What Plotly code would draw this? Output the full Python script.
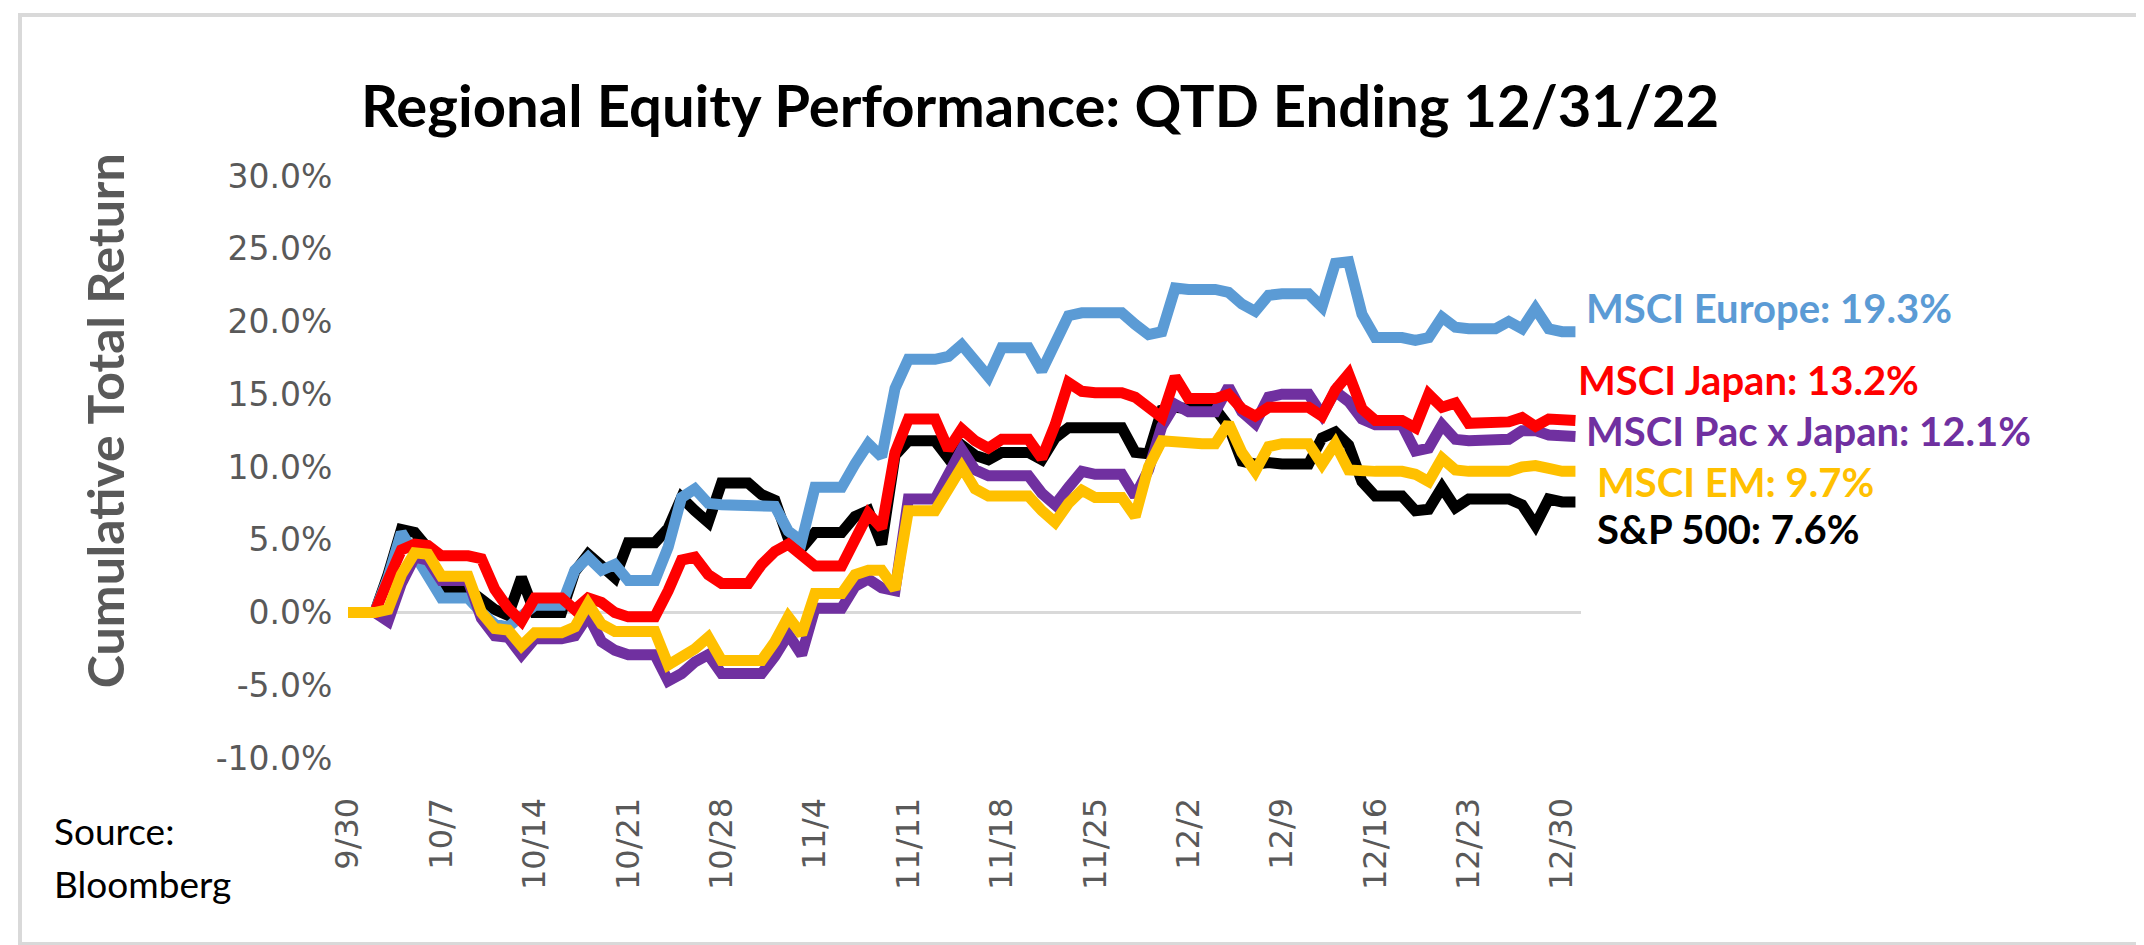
import pandas as pd
import plotly.graph_objects as go

# ---------------- data (cumulative total return, %) ----------------
dates = pd.date_range("2022-09-30", "2022-12-31", freq="D")

sp500 = [
    0, 0, 0, 2.6, 5.7, 5.5, 4.4,
    1.6, 1.6, 1.6, 0.9, 0.2, -0.2, 2.4,
    0.0, 0.0, 0.0, 2.8, 4.0, 3.2, 2.4,
    4.8, 4.8, 4.8, 5.8, 7.9, 7.0, 6.2,
    8.9, 8.9, 8.9, 8.1, 7.7, 5.1, 4.4,
    5.5, 5.5, 5.5, 6.6, 7.0, 4.7, 10.8,
    11.8, 11.8, 11.8, 10.6, 11.5, 10.8, 10.5,
    11.0, 11.0, 11.0, 10.5, 12.0, 12.7, 12.7,
    12.7, 12.7, 12.7, 11.0, 10.9, 13.9, 14.1,
    14.0, 14.0, 14.0, 12.8, 10.4, 10.2, 10.3,
    10.2, 10.2, 10.2, 12.0, 12.4, 11.5, 9.0,
    8.0, 8.0, 8.0, 7.0, 7.1, 8.6, 7.2,
    7.8, 7.8, 7.8, 7.8, 7.4, 6.0, 7.8,
    7.6, 7.6,
]

europe = [
    0, 0, 0, 2.4, 5.5, 4.0, 2.5,
    1.0, 1.0, 1.0, 0.0, -0.8, -1.0, -0.3,
    0.5, 0.5, 0.5, 2.9, 3.8, 2.9, 3.3,
    2.2, 2.2, 2.2, 4.5, 7.9, 8.5, 7.5,
    7.4, 7.4, 7.4, 7.4, 7.3, 5.6, 4.9,
    8.6, 8.6, 8.6, 10.2, 11.6, 10.7, 15.4,
    17.4, 17.4, 17.4, 17.6, 18.4, 17.3, 16.2,
    18.2, 18.2, 18.2, 16.6, 18.5, 20.4, 20.6,
    20.6, 20.6, 20.6, 19.8, 19.1, 19.3, 22.3,
    22.2, 22.2, 22.2, 22.0, 21.2, 20.7, 21.8,
    21.9, 21.9, 21.9, 21.0, 24.0, 24.1, 20.5,
    18.9, 18.9, 18.9, 18.7, 18.9, 20.3, 19.6,
    19.5, 19.5, 19.5, 20.0, 19.5, 20.9, 19.5,
    19.3, 19.3,
]

japan = [
    0, 0, 0, 2.2, 4.3, 4.7, 4.6,
    3.9, 3.9, 3.9, 3.7, 1.6, 0.3, -0.6,
    1.0, 1.0, 1.0, 0.2, 1.0, 0.7, 0.0,
    -0.3, -0.3, -0.3, 1.5, 3.6, 3.8, 2.6,
    2.0, 2.0, 2.0, 3.3, 4.2, 4.7, 4.0,
    3.2, 3.2, 3.2, 5.0, 6.8, 5.8, 11.0,
    13.3, 13.3, 13.3, 11.2, 12.6, 11.8, 11.3,
    11.9, 11.9, 11.9, 10.6, 12.9, 15.8, 15.2,
    15.1, 15.1, 15.1, 14.8, 14.1, 13.4, 16.2,
    14.7, 14.7, 14.7, 15.0, 14.0, 13.5, 14.1,
    14.1, 14.1, 14.1, 13.5, 15.3, 16.4, 14.0,
    13.2, 13.2, 13.2, 12.7, 15.0, 14.1, 14.4,
    13.0, 13.0, 13.0, 13.1, 13.4, 12.8, 13.3,
    13.2, 13.2,
]

pac_x_japan = [
    0, 0, 0, -0.6, 2.0, 3.8, 3.6,
    2.2, 2.2, 2.2, -0.4, -1.6, -1.7, -2.9,
    -1.8, -1.8, -1.8, -1.6, -0.2, -2.0, -2.6,
    -2.9, -2.9, -2.9, -4.7, -4.2, -3.4, -2.9,
    -4.2, -4.2, -4.2, -4.2, -3.0, -1.5, -2.9,
    0.3, 0.3, 0.3, 1.8, 2.3, 1.7, 1.5,
    7.8, 7.8, 7.8, 9.5, 11.2, 9.8, 9.4,
    9.4, 9.4, 9.4, 8.2, 7.4, 8.6, 9.7,
    9.5, 9.5, 9.5, 8.0, 9.8, 12.8, 14.3,
    13.8, 13.8, 13.8, 15.5, 13.8, 13.0, 14.8,
    15.0, 15.0, 15.0, 13.6, 15.2, 14.5, 13.3,
    12.9, 12.9, 12.9, 11.1, 11.3, 12.9, 11.9,
    11.8, 11.8, 11.8, 11.9, 12.5, 12.5, 12.2,
    12.1, 12.1,
]

em = [
    0, 0, 0, 0.2, 2.6, 4.1, 4.0,
    2.5, 2.5, 2.5, 0.0, -1.1, -1.2, -2.3,
    -1.4, -1.4, -1.4, -1.0, 0.6, -0.8, -1.3,
    -1.3, -1.3, -1.3, -3.6, -3.1, -2.5, -1.7,
    -3.3, -3.3, -3.3, -3.3, -2.0, -0.3, -1.5,
    1.3, 1.3, 1.3, 2.6, 2.9, 2.9, 1.6,
    7.0, 7.0, 7.0, 8.5, 10.0, 8.5, 8.0,
    8.0, 8.0, 8.0, 7.0, 6.2, 7.5, 8.4,
    7.9, 7.9, 7.9, 6.6, 10.0, 11.8, 11.7,
    11.6, 11.6, 11.6, 13.0, 11.0, 9.7, 11.4,
    11.6, 11.6, 11.6, 10.2, 11.6, 9.8, 9.7,
    9.7, 9.7, 9.7, 9.5, 9.0, 10.6, 9.8,
    9.7, 9.7, 9.7, 9.7, 10.0, 10.1, 9.9,
    9.7, 9.7,
]

tick_dates = pd.date_range("2022-09-30", "2022-12-30", freq="7D")
tick_labels = ["9/30", "10/7", "10/14", "10/21", "10/28", "11/4", "11/11",
               "11/18", "11/25", "12/2", "12/9", "12/16", "12/23", "12/30"]
y_ticks = [-10, -5, 0, 5, 10, 15, 20, 25, 30]
y_tick_labels = [f"{v:.1f}%" for v in y_ticks]

# drawing order: bottom -> top
series = [
    ("S&P 500", sp500, "#000000"),
    ("MSCI Europe", europe, "#5B9BD5"),
    ("MSCI Pac x Japan", pac_x_japan, "#7030A0"),
    ("MSCI Japan", japan, "#FF0000"),
    ("MSCI EM", em, "#FFC000"),
]

# label placement (paper x, data y)
label_pos = {
    "MSCI Europe": (1.003, 20.9),
    "MSCI Japan": (0.997, 15.95),
    "MSCI Pac x Japan": (1.003, 12.5),
    "MSCI EM": (1.012, 8.95),
    "S&P 500": (1.012, 5.75),
}

W, H = 2144, 945
L, R, T, B = 340, 571, 168, 195

fig = go.Figure()
for name, vals, color in series:
    fig.add_trace(go.Scatter(
        x=dates, y=vals, mode="lines", name=name,
        line=dict(color=color, width=11), showlegend=False,
        hoverinfo="skip",
    ))

annotations = []
for name, vals, color in series:
    px, py = label_pos[name]
    annotations.append(dict(
        x=px, y=py, xref="paper", yref="y", xanchor="left", yanchor="middle",
        text=f"<b>{name}: {vals[-1]:.1f}%</b>", showarrow=False,
        font=dict(family="Lato", size=40, color=color), borderpad=0,
    ))

annotations.append(dict(
    x=0.5612, y=1.1237, xref="paper", yref="paper", xanchor="center", yanchor="middle",
    text="<b>Regional Equity Performance: QTD Ending 12/31/22</b>", showarrow=False,
    font=dict(family="Lato", size=58, color="#000000"),
))
annotations.append(dict(
    x=-0.1965, y=0.58, xref="paper", yref="paper", xanchor="center", yanchor="middle",
    text="<b>Cumulative Total Return</b>", showarrow=False, textangle=-90,
    font=dict(family="Lato", size=50, color="#595959"),
))
annotations.append(dict(
    x=-0.24, y=-0.125, xref="paper", yref="paper", xanchor="left", yanchor="middle",
    text="Source:", showarrow=False,
    font=dict(family="Lato", size=37, color="#000000"),
))
annotations.append(dict(
    x=-0.24, y=-0.215, xref="paper", yref="paper", xanchor="left", yanchor="middle",
    text="Bloomberg", showarrow=False,
    font=dict(family="Lato", size=37, color="#000000"),
))

x0 = dates[0]
x1 = dates[-1] + pd.Timedelta(hours=10)

fig.update_layout(
    width=W, height=H,
    margin=dict(l=L, r=R, t=T, b=B),
    paper_bgcolor="white", plot_bgcolor="white",
    annotations=annotations,
    shapes=[dict(
        type="rect", xref="paper", yref="paper",
        x0=-0.266, x1=1.4566, y0=-0.3196, y1=1.2766,
        line=dict(color="#D9D9D9", width=4), fillcolor="rgba(0,0,0,0)", layer="below",
    )],
    xaxis=dict(
        type="date", range=[x0, x1],
        tickmode="array", tickvals=tick_dates, ticktext=tick_labels,
        tickangle=-90, ticks="outside", ticklen=26, tickcolor="rgba(0,0,0,0)",
        tickfont=dict(family="DejaVu Sans", size=32, color="#595959"),
        showgrid=False, zeroline=False, showline=False,
    ),
    yaxis=dict(
        range=[-10, 30], tickmode="array", tickvals=y_ticks, ticktext=y_tick_labels,
        ticks="outside", ticklen=8, tickcolor="rgba(0,0,0,0)",
        tickfont=dict(family="DejaVu Sans", size=33, color="#595959"),
        showgrid=False, showline=False,
        zeroline=True, zerolinecolor="#D9D9D9", zerolinewidth=3,
    ),
)

fig.write_html("out.html")
